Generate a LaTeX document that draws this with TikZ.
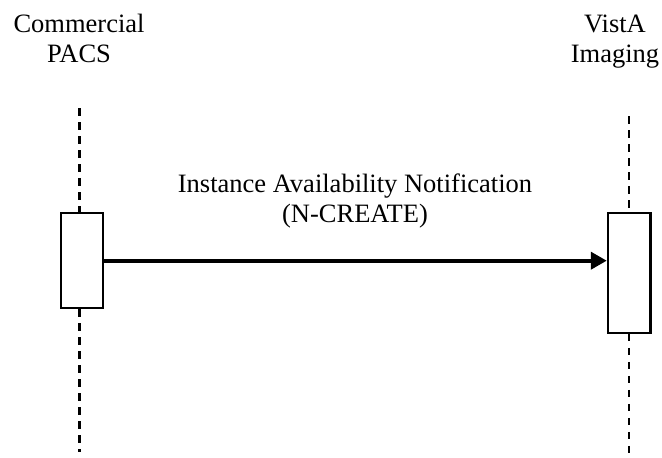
\documentclass[tikz,border=0pt]{standalone}
\usepackage{fontspec}
\setmainfont{Liberation Serif}
\usetikzlibrary{arrows.meta}
\begin{document}
\begin{tikzpicture}[x=1pt,y=-1pt,
  lbl/.style={font=\fontsize{26.5}{30}\selectfont, align=center, inner sep=0pt, anchor=base},
  actbox/.style={draw, line width=2.2pt, fill=white, minimum width=42.6pt, inner sep=0pt},
  lifeline/.style={line width=2.8pt, dash pattern=on 7.5pt off 6.5pt},
  msg/.style={line width=3.8pt, -{Triangle[length=16pt,width=17pt]}}
]
\useasboundingbox (0,0) rectangle (662,458);
% lifeline anchor points
\coordinate (ltop) at (79.5,108);
\coordinate (lbot) at (79.5,452);
\coordinate (rtop) at (629,116);
\coordinate (rbot) at (629,456);
% activation boxes
\node[actbox, minimum height=95.6pt] (lbox) at (82,260.5) {};
\node[actbox, minimum height=120pt] (rbox) at (629.2,272.7) {};
% lifelines
\draw[lifeline] (ltop) -- (ltop |- lbox.north);
\draw[lifeline] (ltop |- lbox.south) -- (lbot);
\draw[lifeline] (rtop) -- (rtop |- rbox.north);
\draw[lifeline] (rtop |- rbox.south) -- (rbot);
% labels
\node[lbl] (lname) at (79,62) {Commercial\\PACS};
\node[lbl] (rname) at (615,62) {VistA\\Imaging};
\node[lbl] (mlabel) at (355,222) {Instance Availability Notification\\(N-CREATE)};
% message
\draw[msg] (lbox.east |- 0,260.7) -- (rbox.west |- 0,260.7);
\end{tikzpicture}
\end{document}
